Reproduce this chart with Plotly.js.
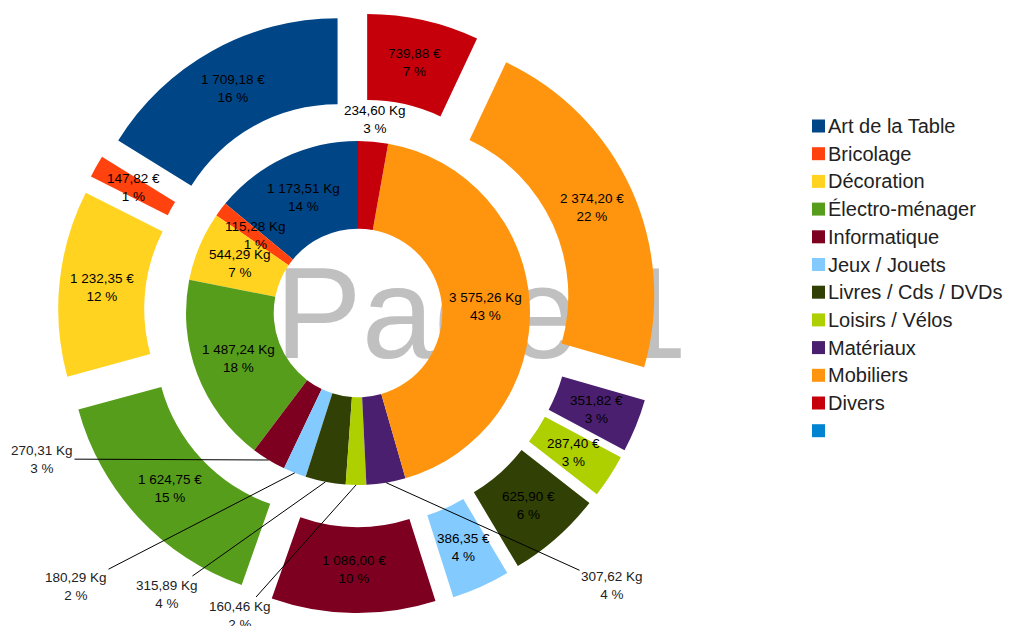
<!DOCTYPE html>
<html>
<head>
<meta charset="utf-8">
<script src="https://cdn.plot.ly/plotly-3.0.1.min.js"></script>
<style>
  html, body { margin: 0; padding: 0; background: #ffffff; }
  #chart { width: 1009px; height: 626px; }
</style>
</head>
<body>
<div id="chart"></div>
<script>
// ---------- DATA ----------
const categories = ["Art de la Table", "Bricolage", "Décoration", "Électro-ménager", "Informatique",
  "Jeux / Jouets", "Livres / Cds / DVDs", "Loisirs / Vélos", "Matériaux", "Mobiliers", "Divers"];
const weightKg = [1173.51, 115.28, 544.29, 1487.24, 270.31, 180.29, 315.89, 160.46, 307.62, 3575.26, 234.60];
const amountEur = [1709.18, 147.82, 1232.35, 1624.75, 1086.00, 386.35, 625.90, 287.40, 351.82, 2374.20, 739.88];
const legendLabels = categories.concat([""]);
const watermarkText = "Page 1";

// ---------- STYLE ----------
const colors = ["#004586", "#ff420e", "#ffd320", "#579d1c", "#7e0021", "#83caff",
  "#314004", "#aecf00", "#4b1f6f", "#ff950e", "#c5000b", "#0084d1"];
const FONT = "Liberation Sans, Arial, sans-serif";
const W = 1009, H = 626;
const CX = 358, CY = 313;          // pie centre (px)
const R_IN = 172, HOLE_IN = 0.49;  // inner ring
const R_OUT = 258;                 // outer ring
const HOLE_OUT = R_IN / R_OUT;
const PULL_PX = 42;
const PULL = PULL_PX / R_OUT;
const LABEL_SIZE = 13.5;
// inner labels: 'in' (inside), 'line' (outside with leader), 'top' (just outside)
const innerLabelMode = ["in", "in", "in", "in", "line", "line", "line", "line", "line", "in", "top"];
const innerLabelPos = {4: [42, 459], 5: [76, 586], 6: [167, 594], 7: [240, 615], 8: [612, 585]};

// ---------- HELPERS ----------
const sum = a => a.reduce((s, v) => s + v, 0);
function fmtNum(v) {
  const parts = v.toFixed(2).split(".");
  const intPart = parts[0].replace(/\B(?=(\d{3})+(?!\d))/g, " ");
  return intPart + "," + parts[1];
}
function midAngles(vals) {
  const tot = sum(vals);
  let cum = 0;
  return vals.map(v => { const m = (cum + v / 2) / tot * 2 * Math.PI; cum += v; return m; });
}
function pct(vals) {
  const tot = sum(vals);
  return vals.map(v => Math.round(v / tot * 100) + " %");
}
// Plotly's counterclockwise pies end the first slice at the rotation angle;
// rotate so that the first slice starts at 12 o'clock.
const firstStartRotation = vals => -vals[0] / sum(vals) * 360;
const px2x = px => px / W;
const py2y = py => 1 - py / H;
function polar(theta, r) { return [CX - Math.sin(theta) * r, CY - Math.cos(theta) * r]; }

// ---------- TRACES ----------
const halfOut = R_OUT * (1 + PULL);
const outer = {
  type: "pie", labels: categories, values: amountEur, sort: false,
  direction: "counterclockwise", rotation: firstStartRotation(amountEur), hole: HOLE_OUT,
  pull: amountEur.map(() => PULL),
  marker: { colors: colors.slice(0, categories.length), line: { width: 0 } },
  textinfo: "none", hoverinfo: "skip", showlegend: false,
  domain: { x: [px2x(CX - halfOut), px2x(CX + halfOut)], y: [py2y(CY + halfOut), py2y(CY - halfOut)] }
};
const inner = {
  type: "pie", labels: categories, values: weightKg, sort: false,
  direction: "counterclockwise", rotation: firstStartRotation(weightKg), hole: HOLE_IN,
  marker: { colors: colors.slice(0, categories.length), line: { width: 0 } },
  textinfo: "none", hoverinfo: "skip", showlegend: false,
  domain: { x: [px2x(CX - R_IN), px2x(CX + R_IN)], y: [py2y(CY + R_IN), py2y(CY - R_IN)] }
};
const watermark = {
  type: "scatter", mode: "text", x: [px2x(481)], y: [py2y(325.5)], text: [watermarkText],
  textposition: "middle center", textfont: { family: FONT, size: 130, color: "#c0c0c0" },
  hoverinfo: "skip", showlegend: false, xaxis: "x", yaxis: "y"
};

// ---------- ANNOTATIONS ----------
const annotations = [];
const labelFont = { family: FONT, size: LABEL_SIZE, color: "#000000" };
// outer labels
const outMid = midAngles(amountEur), outPct = pct(amountEur);
const rOutLabel = (R_OUT * HOLE_OUT + R_OUT) / 2 + PULL_PX;
amountEur.forEach((v, i) => {
  const p = polar(outMid[i], rOutLabel);
  annotations.push({ x: px2x(p[0]), y: py2y(p[1]), xref: "paper", yref: "paper",
    text: fmtNum(v) + " €<br>" + outPct[i], showarrow: false, font: labelFont,
    xanchor: "center", yanchor: "middle" });
});
// inner labels
const inMid = midAngles(weightKg), inPct = pct(weightKg);
const rInLabel = (R_IN * HOLE_IN + R_IN) / 2;
weightKg.forEach((v, i) => {
  const txt = fmtNum(v) + " Kg<br>" + inPct[i];
  const mode = innerLabelMode[i];
  if (mode === "in" || mode === "top") {
    const p = polar(inMid[i], mode === "in" ? rInLabel : R_IN + 22);
    annotations.push({ x: px2x(p[0]), y: py2y(p[1]), xref: "paper", yref: "paper",
      text: txt, showarrow: false, font: labelFont, xanchor: "center", yanchor: "middle" });
  } else {
    const head = polar(inMid[i], R_IN);
    const lp = innerLabelPos[i];
    annotations.push({ x: px2x(head[0]), y: py2y(head[1]), xref: "paper", yref: "paper",
      ax: lp[0] - head[0], ay: lp[1] - head[1], text: txt, showarrow: true,
      arrowhead: 0, arrowwidth: 1, arrowcolor: "#000000", standoff: 0, startstandoff: 0,
      font: { family: FONT, size: LABEL_SIZE, color: "#222222" } });
  }
});
// legend (custom)
const shapes = [];
const LEG_X0 = 812, LEG_Y0 = 126, LEG_STEP = 27.7, SQ = 13;
legendLabels.forEach((lab, i) => {
  const yc = LEG_Y0 + i * LEG_STEP;
  shapes.push({ type: "rect", xref: "paper", yref: "paper",
    x0: px2x(LEG_X0), x1: px2x(LEG_X0 + SQ), y0: py2y(yc + SQ / 2), y1: py2y(yc - SQ / 2),
    fillcolor: colors[i], line: { width: 0 } });
  if (lab) {
    annotations.push({ x: px2x(LEG_X0 + SQ + 1), y: py2y(yc), xref: "paper", yref: "paper",
      text: lab, showarrow: false, xanchor: "left", yanchor: "middle",
      font: { family: FONT, size: 20, color: "#222222" } });
  }
});

const layout = {
  width: W, height: H, margin: { l: 0, r: 0, t: 0, b: 0 },
  paper_bgcolor: "#ffffff", plot_bgcolor: "rgba(0,0,0,0)",
  showlegend: false,
  xaxis: { visible: false, range: [0, 1], domain: [0, 1], fixedrange: true },
  yaxis: { visible: false, range: [0, 1], domain: [0, 1], fixedrange: true },
  annotations: annotations, shapes: shapes,
  font: { family: FONT }
};

Plotly.newPlot("chart", [watermark, outer, inner], layout, { displayModeBar: false, staticPlot: true });
</script>
</body>
</html>
